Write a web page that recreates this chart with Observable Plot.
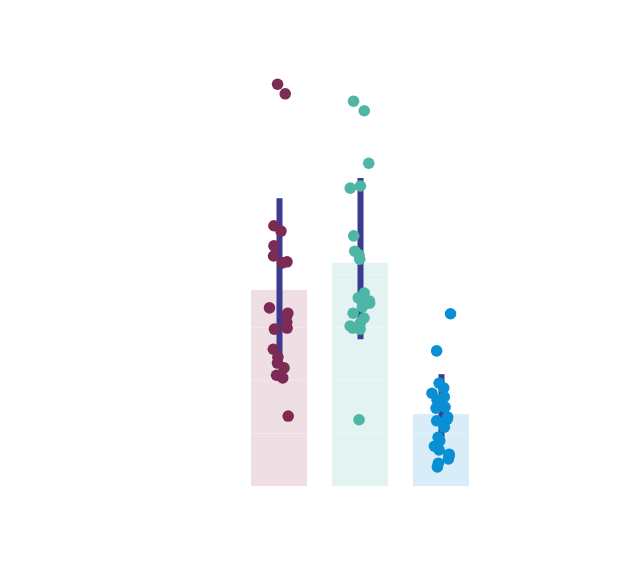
<!DOCTYPE html>
<html>
<head>
<meta charset="utf-8">
<script src="https://cdn.jsdelivr.net/npm/d3@7"></script>
<script src="https://cdn.jsdelivr.net/npm/@observablehq/plot@0.6"></script>
<style>
  html, body { margin: 0; padding: 0; background: #ffffff; }
  #chart svg { display: block; }
</style>
</head>
<body>
<div id="chart"></div>
<script>
// Groups
const groups = ["A", "B", "C"];
// Bar heights
const barValues = [37.0, 42.1, 13.6];
// Error bar extents
const errLow = [23.2, 27.7, 8.7];
const errHigh = [54.3, 58.1, 21.1];
// Individual observations per group
const valuesA = [75.8, 74.0, 49.1, 48.1, 45.3, 43.4, 42.3, 42.1, 33.6, 32.6, 32.1, 30.9, 29.8, 29.6, 25.8, 24.3, 23.2, 22.3, 20.9, 20.4, 13.2];
const valuesB = [72.6, 70.8, 60.9, 56.6, 56.2, 47.2, 44.3, 43.6, 42.8, 36.4, 35.5, 34.9, 34.5, 33.8, 32.6, 31.7, 30.8, 30.2, 29.8, 29.6, 12.5];
const valuesC = [32.5, 25.5, 19.4, 18.5, 17.5, 16.8, 16.2, 14.9, 14.7, 13.0, 12.6, 12.3, 11.1, 9.2, 8.5, 7.5, 6.8, 6.0, 5.7, 5.1, 4.3, 3.6];
// Grid values
const gridValues = [10, 20, 30, 40, 50, 60, 70, 80];

const dotColors = ["#7b2b55", "#4db6a5", "#0a8fd4"];
const barColors = ["#efdfe5", "#e3f3f2", "#d8edf7"];

const bars = groups.map((g, i) => ({group: g, value: barValues[i], lo: errLow[i], hi: errHigh[i]}));

// seeded jitter (deterministic), in pixels
const rnd = d3.randomLcg(0.4217);
const points = [];
[valuesA, valuesB, valuesC].forEach((vals, i) => {
  vals.forEach(v => points.push({group: groups[i], value: v, jitter: (rnd() - 0.5) * 20}));
});

const chart = Plot.plot({
  width: 625,
  height: 570,
  marginLeft: 224.5,
  marginRight: 130.5,
  marginTop: 9,
  marginBottom: 84,
  x: {domain: groups, padding: 0.313, axis: null},
  y: {domain: [0, 90], axis: null},
  color: {domain: groups, range: dotColors},
  marks: [
    Plot.barY(bars, {x: "group", y: "value", fill: (d, i) => barColors[i]}),
    Plot.ruleY(gridValues, {stroke: "#ffffff", strokeOpacity: 0.3, strokeWidth: 1}),
    Plot.ruleX(bars, {x: "group", y1: "lo", y2: "hi", stroke: "#3d3b8f", strokeWidth: 6}),
    Plot.dot(points, {x: "group", y: "value", r: 5.8, fill: "group", stroke: null})
  ]
});

// apply horizontal jitter around each band centre
const xs = chart.scale("x");
const bw = xs.bandwidth;
const circles = chart.querySelectorAll("circle");
circles.forEach((c, k) => {
  const p = points[k];
  if (!p) return;
  c.parentNode.removeAttribute("transform");
  c.setAttribute("cx", xs.apply(p.group) + bw / 2 + p.jitter);
});
document.getElementById("chart").append(chart);
</script>
</body>
</html>
